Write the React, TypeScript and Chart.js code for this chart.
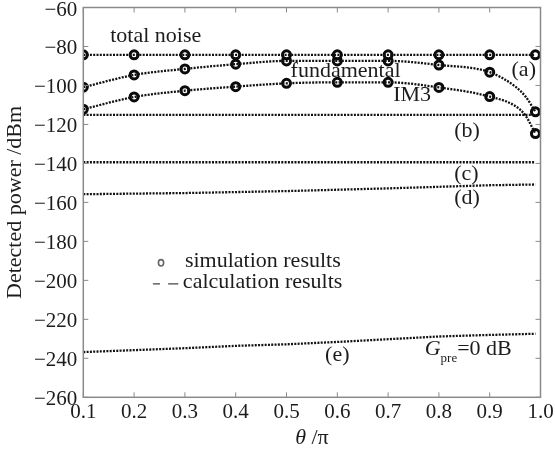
import React, { useEffect, useRef } from "react";
import { Chart, registerables } from "chart.js";

Chart.register(...registerables);

// ---- data ----
const X_TICKS = [0.1, 0.2, 0.3, 0.4, 0.5, 0.6, 0.7, 0.8, 0.9, 1.0];
const Y_TICKS = [-260, -240, -220, -200, -180, -160, -140, -120, -100, -80, -60];

const SIM_THETA = [0.1, 0.2, 0.3, 0.4, 0.5, 0.6, 0.7, 0.8, 0.9, 0.99];
const SIM_TOTAL_NOISE = [-84.3, -84.3, -84.3, -84.3, -84.3, -84.3, -84.3, -84.3, -84.3, -84.3];
const SIM_FUNDAMENTAL = [-100.9, -94.6, -91.5, -89.1, -87.4, -87.4, -87.4, -89.5, -93.2, -113.5];
const SIM_IM3 = [-112.2, -105.9, -102.7, -100.6, -98.9, -98.4, -98.4, -101.0, -105.7, -124.7];

const CURVE_THETA = [0.1, 0.2, 0.3, 0.4, 0.5, 0.6, 0.7, 0.8, 0.9, 0.95, 0.97, 0.99];
const CALC_FUNDAMENTAL = [-100.9, -94.6, -91.5, -89.1, -87.4, -87.4, -87.4, -89.5, -93.2, -100.5, -105.5, -113.5];
const CALC_IM3 = [-112.2, -105.9, -102.7, -100.6, -98.9, -98.4, -98.4, -101.0, -105.7, -110.5, -115.3, -124.7];

const LINE_THETA = [0.1, 0.2, 0.3, 0.4, 0.5, 0.6, 0.7, 0.8, 0.9, 0.99];
const CALC_TOTAL_NOISE = [-84.3, -84.3, -84.3, -84.3, -84.3, -84.3, -84.3, -84.3, -84.3, -84.3];
const CALC_B = [-115.1, -115.1, -115.1, -115.1, -115.1, -115.1, -115.1, -115.1, -115.1, -115.1];
const CALC_C = [-139.4, -139.4, -139.4, -139.4, -139.4, -139.4, -139.4, -139.4, -139.4, -139.4];
const CALC_D = [-155.8, -155.5, -155.2, -154.7, -154.2, -153.5, -152.8, -152.0, -151.2, -150.8];
const CALC_E = [-236.8, -235.8, -234.8, -233.6, -232.8, -231.6, -230.2, -228.8, -228.0, -227.4];

// ---- annotation texts (data coordinates) ----
const ANNOTATIONS = [
  { text: "total noise", x: 0.153, y: -74.6 },
  { text: "fundamental", x: 0.508, y: -92.9 },
  { text: "IM3", x: 0.71, y: -104.9 },
  { text: "(a)", x: 0.943, y: -92.0 },
  { text: "(b)", x: 0.83, y: -123.7 },
  { text: "(c)", x: 0.83, y: -145.4 },
  { text: "(d)", x: 0.83, y: -157.7 },
  { text: "(e)", x: 0.576, y: -238.2 },
];

const FONT = "'Liberation Serif', 'Times New Roman', serif";
const INK = "#1c1c1c";
const AXIS_GRAY = "#8a8a8a";

const toXY = (xs: number[], ys: number[]) => xs.map((x, i) => ({ x, y: ys[i] }));

const calcStyle = {
  showLine: true,
  borderColor: "#111",
  borderWidth: 2.3,
  borderDash: [2, 1.3],
  borderCapStyle: "butt" as const,
  pointRadius: 0,
  fill: false,
};

const simStyle = {
  showLine: false,
  borderColor: "#0a0a0a",
  backgroundColor: "#fff",
  borderWidth: 3,
  pointRadius: 4,
  pointStyle: "circle" as const,
};

const decorPlugin = {
  id: "decor",
  afterDatasetsDraw(chart: any) {
    const { ctx, chartArea: a, scales } = chart;
    const xs = scales.x;
    const ys = scales.y;
    ctx.save();
    // frame
    ctx.strokeStyle = AXIS_GRAY;
    ctx.lineWidth = 1.5;
    ctx.strokeRect(a.left, a.top, a.right - a.left, a.bottom - a.top);
    // inward ticks
    ctx.lineWidth = 1;
    ctx.beginPath();
    X_TICKS.forEach((v) => {
      const px = xs.getPixelForValue(v);
      ctx.moveTo(px, a.bottom);
      ctx.lineTo(px, a.bottom - 5);
      ctx.moveTo(px, a.top);
      ctx.lineTo(px, a.top + 5);
    });
    Y_TICKS.forEach((v) => {
      const py = ys.getPixelForValue(v);
      ctx.moveTo(a.left, py);
      ctx.lineTo(a.left + 5, py);
      ctx.moveTo(a.right, py);
      ctx.lineTo(a.right - 5, py);
    });
    ctx.stroke();

    // annotations
    ctx.fillStyle = INK;
    ctx.textBaseline = "middle";
    ctx.textAlign = "left";
    ctx.font = `22px ${FONT}`;
    ANNOTATIONS.forEach((t) => {
      ctx.fillText(t.text, xs.getPixelForValue(t.x), ys.getPixelForValue(t.y));
    });

    // G_pre = 0 dB
    let gx = xs.getPixelForValue(0.772);
    const gy = ys.getPixelForValue(-235.1);
    ctx.font = `italic 22px ${FONT}`;
    ctx.fillText("G", gx, gy);
    gx += ctx.measureText("G").width;
    ctx.font = `13px ${FONT}`;
    ctx.fillText("pre", gx, gy + 10);
    gx += ctx.measureText("pre").width;
    ctx.font = `22px ${FONT}`;
    ctx.fillText("=0 dB", gx, gy);

    // legend
    const cx = xs.getPixelForValue(0.253);
    const cy = ys.getPixelForValue(-191.0);
    ctx.strokeStyle = "#666";
    ctx.lineWidth = 1.6;
    ctx.beginPath();
    ctx.ellipse(cx, cy, 2.6, 3.2, 0, 0, Math.PI * 2);
    ctx.stroke();
    ctx.fillText("simulation results", xs.getPixelForValue(0.3), ys.getPixelForValue(-190.0));
    const dy = ys.getPixelForValue(-201.8);
    ctx.strokeStyle = "#444";
    ctx.lineWidth = 1.3;
    ctx.beginPath();
    ctx.moveTo(xs.getPixelForValue(0.237), dy);
    ctx.lineTo(xs.getPixelForValue(0.251), dy);
    ctx.moveTo(xs.getPixelForValue(0.267), dy);
    ctx.lineTo(xs.getPixelForValue(0.287), dy);
    ctx.stroke();
    ctx.fillText("calculation results", xs.getPixelForValue(0.296), ys.getPixelForValue(-200.8));

    // x axis title: θ /π
    const tx = (a.left + a.right) / 2;
    const ty = 438;
    ctx.font = `italic 22px ${FONT}`;
    const w1 = ctx.measureText("\u03b8").width;
    ctx.font = `22px ${FONT}`;
    const w2 = ctx.measureText(" /\u03c0").width;
    let sx = tx - (w1 + w2) / 2;
    ctx.font = `italic 22px ${FONT}`;
    ctx.fillText("\u03b8", sx, ty);
    sx += w1;
    ctx.font = `22px ${FONT}`;
    ctx.fillText(" /\u03c0", sx, ty);
    ctx.restore();
  },
};

export default function App() {
  const ref = useRef<HTMLCanvasElement | null>(null);

  useEffect(() => {
    if (!ref.current) return;
    const chart = new Chart(ref.current, {
      type: "scatter",
      data: {
        datasets: [
          { ...calcStyle, data: toXY(LINE_THETA, CALC_TOTAL_NOISE) },
          { ...calcStyle, data: toXY(CURVE_THETA, CALC_FUNDAMENTAL), cubicInterpolationMode: "monotone" },
          { ...calcStyle, data: toXY(CURVE_THETA, CALC_IM3), cubicInterpolationMode: "monotone" },
          { ...calcStyle, data: toXY(LINE_THETA, CALC_B) },
          { ...calcStyle, data: toXY(LINE_THETA, CALC_C) },
          { ...calcStyle, data: toXY(LINE_THETA, CALC_D) },
          { ...calcStyle, data: toXY(LINE_THETA, CALC_E) },
          { ...simStyle, data: toXY(SIM_THETA, SIM_TOTAL_NOISE) },
          { ...simStyle, data: toXY(SIM_THETA, SIM_FUNDAMENTAL) },
          { ...simStyle, data: toXY(SIM_THETA, SIM_IM3) },
        ] as any,
      },
      options: {
        animation: false,
        responsive: false,
        devicePixelRatio: 1,
        layout: { padding: { top: 7.5, right: 14.5, left: 0, bottom: 0 } },
        plugins: { legend: { display: false }, tooltip: { enabled: false } },
        scales: {
          x: {
            type: "linear",
            min: 0.1,
            max: 1.0,
            grid: { display: false, drawTicks: false },
            border: { display: false },
            afterBuildTicks: (s: any) => {
              s.ticks = X_TICKS.map((v) => ({ value: v }));
            },
            afterFit: (s: any) => {
              s.height = 53.7;
              s.paddingLeft = 0;
              s.paddingRight = 0;
            },
            ticks: {
              autoSkip: false,
              maxRotation: 0,
              padding: 3,
              color: INK,
              font: { family: FONT, size: 21 },
              callback: (v: any) => Number(v).toFixed(1),
            },
          },
          y: {
            type: "linear",
            min: -260,
            max: -60,
            grid: { display: false, drawTicks: false },
            border: { display: false },
            afterBuildTicks: (s: any) => {
              s.ticks = Y_TICKS.map((v) => ({ value: v }));
            },
            afterFit: (s: any) => {
              s.width = 83.3;
              s.paddingTop = 0;
              s.paddingBottom = 0;
            },
            title: {
              display: true,
              text: "Detected power /dBm",
              color: INK,
              font: { family: FONT, size: 22 },
              padding: { top: 2, bottom: 0 },
            },
            ticks: {
              autoSkip: false,
              padding: 6,
              labelOffset: 2.5,
              color: INK,
              font: { family: FONT, size: 21 },
              callback: (v: any) => {
                const n = Number(v);
                return n < 0 ? "\u2212" + Math.abs(n) : String(n);
              },
            },
          },
        },
      },
      plugins: [decorPlugin],
    });
    return () => chart.destroy();
  }, []);

  return (
    <div style={{ position: "fixed", left: 0, top: 0, width: 555, height: 451, background: "#fff" }}>
      <canvas ref={ref} width={555} height={451} style={{ width: 555, height: 451 }} />
    </div>
  );
}
